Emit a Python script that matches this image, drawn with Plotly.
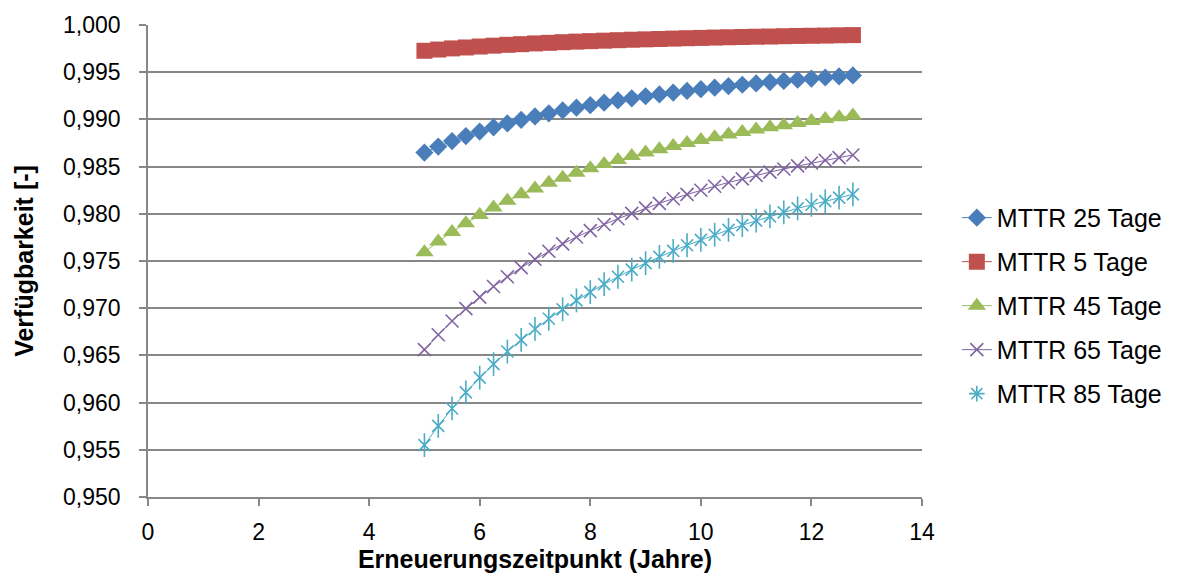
import plotly.graph_objects as go

# Erneuerungszeitpunkt in Jahren
jahre = [5.0, 5.25, 5.5, 5.75, 6.0, 6.25, 6.5, 6.75, 7.0, 7.25, 7.5, 7.75,
         8.0, 8.25, 8.5, 8.75, 9.0, 9.25, 9.5, 9.75, 10.0, 10.25, 10.5, 10.75,
         11.0, 11.25, 11.5, 11.75, 12.0, 12.25, 12.5, 12.75]

# Verfügbarkeit je MTTR
mttr_25 = [0.98649, 0.98712, 0.98770, 0.98823, 0.98871, 0.98916, 0.98957, 0.98995,
           0.99031, 0.99064, 0.99095, 0.99124, 0.99151, 0.99177, 0.99201, 0.99223,
           0.99245, 0.99265, 0.99284, 0.99302, 0.99320, 0.99336, 0.99352, 0.99367,
           0.99381, 0.99395, 0.99408, 0.99420, 0.99432, 0.99444, 0.99455, 0.99466]
mttr_5 = [0.99727, 0.99740, 0.99752, 0.99762, 0.99772, 0.99781, 0.99790, 0.99797,
          0.99805, 0.99811, 0.99818, 0.99824, 0.99829, 0.99834, 0.99839, 0.99844,
          0.99848, 0.99852, 0.99856, 0.99860, 0.99863, 0.99867, 0.99870, 0.99873,
          0.99876, 0.99878, 0.99881, 0.99884, 0.99886, 0.99888, 0.99891, 0.99893]
mttr_45 = [0.97594, 0.97706, 0.97808, 0.97901, 0.97987, 0.98066, 0.98139, 0.98206,
           0.98269, 0.98328, 0.98383, 0.98434, 0.98482, 0.98528, 0.98570, 0.98611,
           0.98649, 0.98685, 0.98719, 0.98751, 0.98782, 0.98811, 0.98839, 0.98866,
           0.98892, 0.98916, 0.98939, 0.98962, 0.98983, 0.99004, 0.99023, 0.99042]
mttr_65 = [0.96561, 0.96719, 0.96864, 0.96996, 0.97118, 0.97230, 0.97333, 0.97430,
           0.97519, 0.97603, 0.97681, 0.97754, 0.97822, 0.97887, 0.97948, 0.98005,
           0.98060, 0.98111, 0.98160, 0.98206, 0.98250, 0.98292, 0.98332, 0.98370,
           0.98407, 0.98442, 0.98475, 0.98507, 0.98538, 0.98567, 0.98595, 0.98623]
mttr_85 = [0.95550, 0.95753, 0.95938, 0.96108, 0.96264, 0.96408, 0.96541, 0.96665,
           0.96780, 0.96888, 0.96988, 0.97083, 0.97171, 0.97255, 0.97333, 0.97408,
           0.97478, 0.97544, 0.97607, 0.97667, 0.97724, 0.97778, 0.97830, 0.97880,
           0.97927, 0.97972, 0.98015, 0.98057, 0.98096, 0.98134, 0.98171, 0.98206]

series_names = ["MTTR 25 Tage", "MTTR 5 Tage", "MTTR 45 Tage", "MTTR 65 Tage", "MTTR 85 Tage"]

y_ticks = [0.950, 0.955, 0.960, 0.965, 0.970, 0.975, 0.980, 0.985, 0.990, 0.995, 1.000]
x_ticks = [0, 2, 4, 6, 8, 10, 12, 14]

FONT = "Liberation Sans, Arial, sans-serif"
GRID = "#878787"

series_values = [mttr_25, mttr_5, mttr_45, mttr_65, mttr_85]
colors = ["#4A7EBB", "#C0504D", "#9BBB59", "#8064A2", "#4BACC6"]
markers = [
    dict(symbol="diamond", size=14),
    dict(symbol="square", size=16),
    dict(symbol="triangle-up", size=16),
    dict(symbol="x-thin-open", size=13, line=dict(width=1.6)),
    dict(symbol="x-thin-open", size=12, line=dict(width=1.6)),
]

fig = go.Figure()

for i, (name, vals, color, mk) in enumerate(zip(series_names, series_values, colors, markers)):
    is_star = i == 4
    fig.add_trace(go.Scatter(
        x=jahre, y=vals, name=name, mode="lines+markers",
        line=dict(color=color, width=1),
        marker=dict(color=color, **mk),
        legendgroup=name, showlegend=not is_star,
    ))
    if is_star:
        # vertical stroke completing the star marker
        fig.add_trace(go.Scatter(
            x=jahre, y=vals, mode="markers", name=name,
            marker=dict(symbol="line-ns-open", size=17, color=color,
                        line=dict(width=1.6, color=color)),
            legendgroup=name, showlegend=False, hoverinfo="skip",
        ))
        # legend entry
        fig.add_trace(go.Scatter(
            x=[None], y=[None], mode="markers", name=name,
            marker=dict(symbol="asterisk-open", size=13, color=color,
                        line=dict(width=1.6, color=color)),
            legendgroup=name, showlegend=True,
        ))

fig.update_layout(
    width=1182, height=579,
    margin=dict(l=148, r=260, t=23, b=82),
    paper_bgcolor="white", plot_bgcolor="white",
    separators=", ",
    font=dict(family=FONT, size=23, color="#000000"),
    showlegend=True,
    legend=dict(
        x=1.045, y=0.64, xanchor="left", yanchor="top",
        font=dict(family=FONT, size=25, color="#000000"),
        traceorder="grouped", tracegroupgap=8.5,
        bgcolor="rgba(0,0,0,0)",
    ),
)

fig.update_xaxes(
    range=[0, 14], tickvals=x_ticks, ticktext=[str(v) for v in x_ticks],
    showgrid=False, zeroline=False,
    showline=True, linecolor=GRID, linewidth=1.5,
    ticks="outside", ticklen=7, tickcolor=GRID, tickwidth=1.5,
    ticklabelstandoff=7,
    tickfont=dict(family=FONT, size=23),
    title=dict(text="<b>Erneuerungszeitpunkt (Jahre)</b>", font=dict(family=FONT, size=25), standoff=3),
)
fig.update_yaxes(
    range=[0.950, 1.000], tickvals=y_ticks, tickformat=".3f",
    showgrid=True, gridcolor=GRID, gridwidth=1.5, zeroline=False,
    showline=True, linecolor=GRID, linewidth=1.5,
    ticks="outside", ticklen=7, tickcolor=GRID, tickwidth=1.5,
    ticklabelstandoff=14,
    tickfont=dict(family=FONT, size=23),
    title=dict(text="<b>Verfügbarkeit [-]</b>", font=dict(family=FONT, size=25), standoff=22),
)

fig.write_html("out.html")
